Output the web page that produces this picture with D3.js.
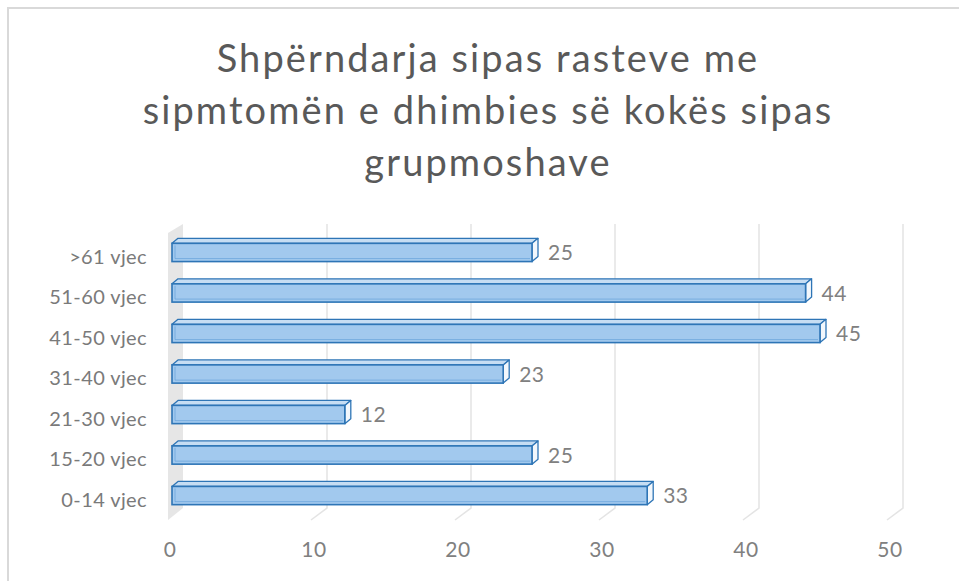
<!DOCTYPE html>
<html>
<head>
<meta charset="utf-8">
<script src="https://cdn.jsdelivr.net/npm/d3@7"></script>
<style>
  html, body { margin: 0; padding: 0; background: #fff; }
  svg { display: block; font-family: Lato, 'Open Sans', sans-serif; }
</style>
</head>
<body>
<svg id="chart" width="959" height="581"></svg>
<script>
// Data (top to bottom as drawn)
var categories = ['>61 vjec', '51-60 vjec', '41-50 vjec', '31-40 vjec', '21-30 vjec', '15-20 vjec', '0-14 vjec'];
var values = [25, 44, 45, 23, 12, 25, 33];
var xTicks = [0, 10, 20, 30, 40, 50];
var titleLines = ['Shpërndarja sipas rasteve me', 'sipmtomën e dhimbies së kokës sipas', 'grupmoshave'];

var svg = d3.select('#chart');

// depth offsets for the 3d look
var wallDx = 11, floorDx = 16, floorDy = 12;
var barDx = 6, barDy = 5;
var backTop = 224, backBottom = 508;

// Scales
var xScale = d3.scaleLinear().domain([0, 50]).range([172, 892]);
var yScale = d3.scaleBand().domain(categories).range([232, 516]).paddingInner(0.55).paddingOuter(0.28);

// Outer frame
svg.append('rect')
  .attr('x', 8).attr('y', 8)
  .attr('width', 980).attr('height', 600)
  .attr('fill', 'none')
  .attr('stroke', '#d9d9d9')
  .attr('stroke-width', 2);

// Title
svg.append('g').selectAll('text')
  .data(titleLines)
  .enter().append('text')
  .attr('x', 488)
  .attr('y', function(d, i) { return 72 + i * 52; })
  .attr('text-anchor', 'middle')
  .attr('fill', '#595959')
  .style('font-size', '38px')
  .style('letter-spacing', '2.1px')
  .text(function(d) { return d; });

// Back wall gridlines + floor diagonals
var grid = svg.append('g').attr('class', 'grid');
grid.selectAll('.back')
  .data(xTicks.slice(1))
  .enter().append('path')
  .attr('d', function(d) {
    var bx = xScale(d) + wallDx;
    return 'M' + bx + ',' + backTop + 'L' + bx + ',' + backBottom + 'L' + (bx - floorDx) + ',' + (backBottom + floorDy);
  })
  .attr('fill', 'none')
  .attr('stroke', '#e4e4e4')
  .attr('stroke-width', 1.5);

// Side wall
var w0 = xScale(0);
svg.append('path')
  .attr('d', 'M' + (w0 - 4) + ',' + (backTop + 9) + 'L' + (w0 + wallDx) + ',' + backTop +
             'L' + (w0 + wallDx) + ',' + backBottom + 'L' + (w0 - 4) + ',' + (backBottom + floorDy))
  .attr('fill', '#e6e6e6');

// Bars
var bars = svg.append('g').selectAll('.bar')
  .data(categories.map(function(c, i) { return {cat: c, val: values[i]}; }))
  .enter().append('g')
  .attr('class', 'bar');

var bh = yScale.bandwidth();

// top face
bars.append('path')
  .attr('d', function(d) {
    var x0 = xScale(0), x1 = xScale(d.val), y = yScale(d.cat);
    return 'M' + x0 + ',' + y + 'L' + (x0 + barDx) + ',' + (y - barDy) + 'L' + (x1 + barDx) + ',' + (y - barDy) + 'L' + x1 + ',' + y + 'Z';
  })
  .attr('fill', '#c6ddf3')
  .attr('stroke', '#2e75b6')
  .attr('stroke-width', 1.3)
  .attr('stroke-linejoin', 'round');

// right face
bars.append('path')
  .attr('d', function(d) {
    var x1 = xScale(d.val), y = yScale(d.cat);
    return 'M' + x1 + ',' + y + 'L' + (x1 + barDx) + ',' + (y - barDy) + 'L' + (x1 + barDx) + ',' + (y + bh - barDy) + 'L' + x1 + ',' + (y + bh) + 'Z';
  })
  .attr('fill', '#f2f7fc')
  .attr('stroke', '#2e75b6')
  .attr('stroke-width', 1.3)
  .attr('stroke-linejoin', 'round');

// front face
bars.append('rect')
  .attr('x', xScale(0))
  .attr('y', function(d) { return yScale(d.cat); })
  .attr('width', function(d) { return xScale(d.val) - xScale(0); })
  .attr('height', bh)
  .attr('fill', '#a2c9ee')
  .attr('stroke', '#2e75b6')
  .attr('stroke-width', 1.6);

// bevel lines on the front face
bars.append('path')
  .attr('d', function(d) {
    var x0 = xScale(0) + 3, x1 = xScale(d.val) - 2, y = yScale(d.cat);
    return 'M' + x0 + ',' + (y + 2) + 'L' + x0 + ',' + (y + bh - 3) + 'L' + x1 + ',' + (y + bh - 3);
  })
  .attr('fill', 'none')
  .attr('stroke', '#5b9bd5')
  .attr('stroke-opacity', 0.6)
  .attr('stroke-width', 1);

// value labels
bars.append('text')
  .attr('x', function(d) { return xScale(d.val) + 16; })
  .attr('y', function(d) { return yScale(d.cat) + bh / 2; })
  .attr('dy', '0.36em')
  .attr('fill', '#808080')
  .style('font-size', '21px')
  .style('letter-spacing', '0.5px')
  .text(function(d) { return d.val; });

// category labels
svg.append('g').selectAll('text')
  .data(categories)
  .enter().append('text')
  .attr('x', 147)
  .attr('y', function(d) { return yScale(d) + bh / 2 + 4; })
  .attr('dy', '0.36em')
  .attr('text-anchor', 'end')
  .attr('fill', '#7a7a7a')
  .style('font-size', '20px')
  .style('letter-spacing', '0.4px')
  .text(function(d) { return d; });

// x tick labels
svg.append('g').selectAll('text')
  .data(xTicks)
  .enter().append('text')
  .attr('x', function(d) { return xScale(d) + wallDx - 13; })
  .attr('y', 557)
  .attr('text-anchor', 'middle')
  .attr('fill', '#808080')
  .style('font-size', '21px')
  .style('letter-spacing', '0.5px')
  .text(function(d) { return d; });
</script>
</body>
</html>
